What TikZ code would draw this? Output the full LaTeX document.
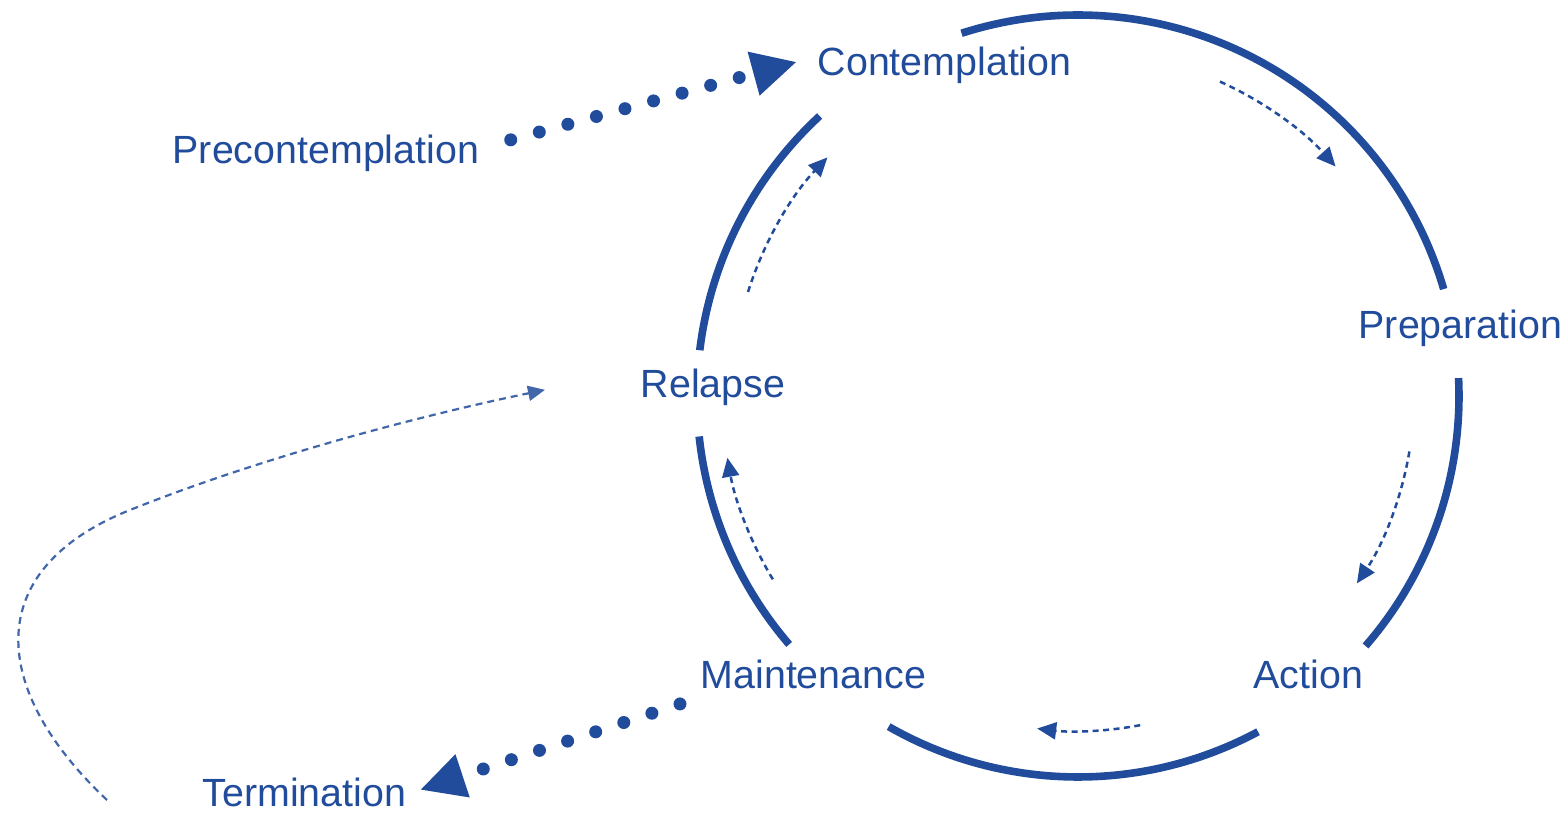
\documentclass[tikz,border=0pt]{standalone}
\usepackage{fontspec}
\setmainfont{Liberation Sans}
\usetikzlibrary{arrows.meta}
\definecolor{stageblue}{RGB}{33,75,155}

\begin{document}
\begin{tikzpicture}[
	stage/.style={ stageblue, anchor=base west, inner sep=0pt, font=\fontsize{11.2}{13}\selectfont },
	ring/.style={ stageblue, line width=0.076cm },
	turn/.style={ stageblue, line width=0.025cm, dash pattern=on 0.06cm off 0.045cm, -{Triangle[length=0.19cm,width=0.17cm]} },
	bigdots/.style={ stageblue, line width=0.13cm, line cap=round, dash pattern=on 0pt off 0.296cm, -{Triangle[length=0.45cm,width=0.42cm]} },
	loopback/.style={ stageblue!85, line width=0.022cm, dash pattern=on 0.07cm off 0.05cm, -{Triangle[length=0.17cm,width=0.15cm]} }
]
\useasboundingbox (0,0) rectangle (15.64,8.13);

\coordinate (c) at (10.78,4.17);

\node at (8.17,7.38) (con) [stage] {Contemplation};
\node at (1.72,6.50) (pre) [stage] {Precontemplation};
\node at (13.58,4.75) (prep) [stage] {Preparation};
\node at (12.53,1.25) (act) [stage] {Action};
\node at (7.00,1.25) (main) [stage] {Maintenance};
\node at (6.40,4.16) (rel) [stage] {Relapse};
\node at (2.02,0.07) (term) [stage] {Termination};

% the ring, broken at the stages
\foreach \a/\b in {107.8/16.3, 2.7/-41, -61.8/-119.8, 220.7/186.1, 173.1/132.7}
	\draw[ring] (c) ++(\a:3.81) arc[start angle=\a, end angle=\b, radius=3.81];

% small arrows inside the ring
\foreach \a/\b/\r in {65.7/41.7/3.45, -9.5/-33.9/3.36, -79.3/-97/3.35, 211/190/3.56, 162.5/136.4/3.46}
	\draw[turn] (c) ++(\a:\r) arc[start angle=\a, end angle=\b, radius=\r];

\draw[bigdots] ([shift={(0.31,0.13)}]pre.east) -- ([shift={(-0.2,0.03)}]con.west);
\draw[bigdots] ([shift={(-0.2,-0.30)}]main.west) -- ([shift={(0.13,0.02)}]term.east);

\coordinate (loopstart) at (1.07,0.13);
\draw[loopback] (loopstart) .. controls (-0.10,1.23) and (-0.20,2.43) .. (1.30,3.03)
	.. controls (2.50,3.51) and (4.00,3.93) .. ([shift={(-0.95,-0.03)}]rel.west);

\end{tikzpicture}
\end{document}
